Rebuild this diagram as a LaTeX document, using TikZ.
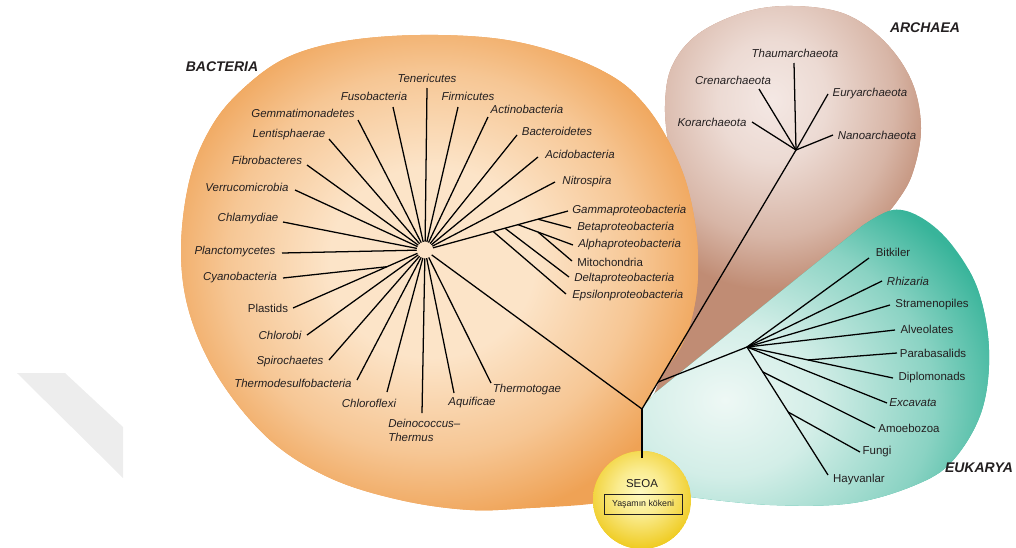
\documentclass[tikz,border=0pt]{standalone}
\usepackage{fontspec}
\setmainfont{Liberation Sans}
\usetikzlibrary{calc}
\definecolor{orin}{HTML}{FCE4C8}
\definecolor{orout}{HTML}{EFA255}
\definecolor{brin}{HTML}{F4E8E4}
\definecolor{brout}{HTML}{C08C74}
\definecolor{tein}{HTML}{EEF8F5}
\definecolor{teout}{HTML}{38B49A}
\definecolor{yein}{HTML}{FFFAC0}
\definecolor{yeout}{HTML}{EFCB20}
\definecolor{txt}{HTML}{231F20}
\definecolor{wm}{HTML}{EDEDED}
\pgfdeclareradialshading{orsh}{\pgfpointorigin}{color(0bp)=(orin); color(9bp)=(orin); color(18bp)=(orin!55!orout); color(25bp)=(orout); color(50bp)=(orout)}
\pgfdeclareradialshading{brsh}{\pgfpointorigin}{color(0bp)=(brin); color(8bp)=(brin!85!brout); color(18bp)=(brin!45!brout); color(25bp)=(brout); color(50bp)=(brout)}
\pgfdeclareradialshading{tesh}{\pgfpointorigin}{color(0bp)=(tein); color(8bp)=(tein!85!teout); color(18bp)=(tein!45!teout); color(25bp)=(teout); color(50bp)=(teout)}
\pgfdeclareradialshading{yesh}{\pgfpointorigin}{color(0bp)=(yein); color(10bp)=(yein!70!yeout); color(25bp)=(yeout); color(50bp)=(yeout)}
\tikzset{
  br/.style={line width=0.95pt, draw=black},
  lab/.style={font=\fontsize{8.6}{10.5}\selectfont\itshape, text=txt, inner sep=0pt},
  labu/.style={font=\fontsize{8.6}{10.5}\selectfont, text=txt, inner sep=0pt},
  dom/.style={font=\fontsize{10.5}{12}\selectfont\bfseries\itshape, text=txt, inner sep=0pt},
}
\def\orangepath{plot[smooth cycle, tension=0.6] coordinates {(682,345) (664,372) (651,395) (648,420) (650,470) (630,496) (590,504) (530,508) (470,510) (400,500) (330,478) (270,440) (220,380) (190,315) (181,250) (190,178) (213,124) (246,86) (288,57) (345,41) (420,35) (500,39) (565,55) (615,78) (645,105) (668,140) (686,182) (696,230) (698,275) (693,313)}}
\def\brownpath{plot[smooth cycle, tension=0.6] coordinates {(646,425) (662,370) (678,300) (684,230) (678,185) (669,148) (665,105) (672,66) (698,34) (745,12) (793,6) (845,14) (885,42) (912,82) (921,128) (913,172) (898,200) (878,222) (835,258) (760,318) (690,375)}}
\def\tealpath{(655,393) -- (642,408) -- (642,492) -- plot[smooth, tension=0.6] coordinates {(690,497) (770,505) (853,503) (920,483) (955,458) (982,410) (989,350) (978,290) (952,245) (922,218) (893,210) (862,226)} -- cycle}
\begin{document}
\begin{tikzpicture}[x=0.75pt,y=-0.75pt]
\useasboundingbox (0,0) rectangle (1016,547);
% faint watermark
\fill[wm] (17,373) -- (65,373) -- (123,427) -- (123,478) -- cycle;
% archaea blob
\fill[brout] \brownpath;
\begin{scope}
  \clip \brownpath;
  \shade[shading=brsh] (772,100) ellipse (170 and 190);
\end{scope}
% bacteria blob
\fill[orout] \orangepath;
\begin{scope}
  \clip \orangepath;
  \shade[shading=orsh] (432,262) ellipse (285 and 265);
\end{scope}
% eukarya blob
\fill[teout] \tealpath;
\begin{scope}
  \clip \tealpath;
  \shade[shading=tesh] (725,400) ellipse (290 and 240);
\end{scope}
% SEOA ball
\begin{scope}
  \clip (642,500) circle (49);
  \fill[yeout] (642,500) circle (49);
  \shade[shading=yesh] (640,492) circle (57);
\end{scope}

% ---------- nodes / coordinates ----------
\node[circle, minimum size=12pt, inner sep=0pt] (hub) at (425,250) {};
\coordinate (root) at (642,409);
\coordinate (rootend) at (642,458);
\coordinate (ah) at (796,150);
\coordinate (eh) at (747,347);

% bacteria ends
\coordinate (tene) at (427,88);
\coordinate (fuse) at (393,107);
\coordinate (fire) at (458,107);
\coordinate (geme) at (358,120);
\coordinate (acte) at (488,117);
\coordinate (lene) at (329,139);
\coordinate (bace) at (517,135);
\coordinate (fibe) at (307,165);
\coordinate (acie) at (538,157);
\coordinate (vere) at (295,190);
\coordinate (nite) at (555,182);
\coordinate (chle) at (283,222);
\coordinate (plae) at (282,253);
\coordinate (pste) at (293,308);
\coordinate (cyae) at (283,278);
\coordinate (chbe) at (307,335);
\coordinate (spie) at (329,360);
\coordinate (thde) at (357,380);
\coordinate (chfe) at (387,392);
\coordinate (deie) at (422,413);
\coordinate (aque) at (454,393);
\coordinate (thte) at (491,383);
% proteobacteria
\coordinate (game) at (568,211);
\coordinate (bete) at (571,228);
\coordinate (alpe) at (573,245);
\coordinate (mite) at (572,261);
\coordinate (dele) at (569,277);
\coordinate (epse) at (566,294);
% archaea ends
\coordinate (kore) at (752,122);
\coordinate (cree) at (759,89);
\coordinate (thae) at (794,63);
\coordinate (eure) at (828,94);
\coordinate (nane) at (833,135);
% eukarya ends
\coordinate (bite) at (869,258);
\coordinate (rhie) at (882,281);
\coordinate (stre) at (890,305);
\coordinate (alve) at (895,330);
\coordinate (pare) at (897,353);
\coordinate (dipe) at (893,378);
\coordinate (exce) at (887,403);
\coordinate (amoe) at (875,428);
\coordinate (fune) at (860,452);
\coordinate (haye) at (828,475);

% branch points
\coordinate (pEps) at ($(hub.center)!0.476!(game)$);
\coordinate (pDel) at ($(hub.center)!0.559!(game)$);
\coordinate (pAlp) at ($(hub.center)!0.650!(game)$);
\coordinate (pBet) at ($(hub.center)!0.790!(game)$);
\coordinate (pMit) at ($(pAlp)!0.364!(alpe)$);
\coordinate (pCya) at ($(hub.center)!0.288!(pste)$);
\coordinate (pEuk) at ($(root)!0.104!(ah)$);
\coordinate (pPar) at ($(eh)!0.418!(dipe)$);
\coordinate (pAmo) at ($(eh)!0.195!(haye)$);
\coordinate (pFun) at ($(eh)!0.508!(haye)$);

% ---------- connectors ----------
\draw[br] (rootend) -- (root);
\draw[br] (root) -- (hub);
\draw[br] (root) -- (ah);
\draw[br] (pEuk) -- (eh);
\foreach \e in {tene,fuse,fire,geme,acte,lene,bace,fibe,acie,vere,nite,chle,plae,pste,chbe,spie,thde,chfe,deie,aque,thte,game}
  \draw[br] (hub) -- (\e);
\draw[br] (pCya) -- (cyae);
\draw[br] (pEps) -- (epse);
\draw[br] (pDel) -- (dele);
\draw[br] (pAlp) -- (alpe);
\draw[br] (pMit) -- (mite);
\draw[br] (pBet) -- (bete);
\foreach \e in {kore,cree,thae,eure,nane}
  \draw[br] (ah) -- (\e);
\foreach \e in {bite,rhie,stre,alve,dipe,exce,haye}
  \draw[br] (eh) -- (\e);
\draw[br] (pPar) -- (pare);
\draw[br] (pAmo) -- (amoe);
\draw[br] (pFun) -- (fune);

% ---------- labels ----------
\node[dom] (lbac) at (222,67) {BACTERIA};
\node[dom] (larc) at (925,28) {ARCHAEA};
\node[dom] (leuk) at (979,468) {EUKARYA};

\node[lab] (ltene) at (427,78) {Tenericutes};
\node[lab] (lfuse) at (374,96) {Fusobacteria};
\node[lab] (lfire) at (468,96) {Firmicutes};
\node[lab] (lgeme) at (303,113) {Gemmatimonadetes};
\node[lab] (lacte) at (527,109) {Actinobacteria};
\node[lab] (llene) at (289,135) {Lentisphaerae};
\node[lab] (lbace) at (557,131) {Bacteroidetes};
\node[lab] (lfibe) at (267,160) {Fibrobacteres};
\node[lab] (lacie) at (580,154) {Acidobacteria};
\node[lab] (lvere) at (247,187) {Verrucomicrobia};
\node[lab] (lnite) at (587,182) {Nitrospira};
\node[lab] (lchle) at (248,219) {Chlamydiae};
\node[lab] (lplae) at (235,252) {Planctomycetes};
\node[lab] (lcyae) at (240,278) {Cyanobacteria};
\node[labu] (lpste) at (268,308) {Plastids};
\node[lab] (lchbe) at (280,335) {Chlorobi};
\node[lab] (lspie) at (290,362) {Spirochaetes};
\node[lab] (lthde) at (293,383) {Thermodesulfobacteria};
\node[lab] (lchfe) at (369,403) {Chloroflexi};
\node[lab, align=left, anchor=west] (ldeie) at (388,430) {Deinococcus–\\Thermus};
\node[lab] (laque) at (472,403) {Aquificae};
\node[lab] (lthte) at (527,390) {Thermotogae};

\node[lab, anchor=west] (lgame) at (572,211) {Gammaproteobacteria};
\node[lab, anchor=west] (lbete) at (577,228) {Betaproteobacteria};
\node[lab, anchor=west] (lalpe) at (578,245) {Alphaproteobacteria};
\node[labu, anchor=west] (lmite) at (577,262) {Mitochondria};
\node[lab, anchor=west] (ldele) at (574,279) {Deltaproteobacteria};
\node[lab, anchor=west] (lepse) at (572,296) {Epsilonproteobacteria};

\node[lab] (lkore) at (712,122) {Korarchaeota};
\node[lab] (lcree) at (733,80) {Crenarchaeota};
\node[lab] (lthae) at (795,53) {Thaumarchaeota};
\node[lab] (leure) at (870,94) {Euryarchaeota};
\node[lab] (lnane) at (877,135) {Nanoarchaeota};

\node[labu] (lbite) at (893,252) {Bitkiler};
\node[lab] (lrhie) at (908,281) {Rhizaria};
\node[labu] (lstre) at (932,305) {Stramenopiles};
\node[labu] (lalve) at (927,329) {Alveolates};
\node[labu] (lpare) at (933,353) {Parabasalids};
\node[labu] (ldipe) at (932,378) {Diplomonads};
\node[lab] (lexce) at (913,403) {Excavata};
\node[labu] (lamoe) at (909,428) {Amoebozoa};
\node[labu] (lfune) at (877,452) {Fungi};
\node[labu] (lhaye) at (859,480) {Hayvanlar};

\node[labu, font=\fontsize{8.6}{10}\selectfont] (lseoa) at (642,484) {SEOA};
\node[draw=txt, line width=0.7pt, minimum width=58.5pt, minimum height=15.5pt, inner sep=1pt, text=txt, font=\fontsize{6.6}{8}\selectfont] (lori) at (643,504.5) {Yaşamın kökeni};
\end{tikzpicture}
\end{document}
